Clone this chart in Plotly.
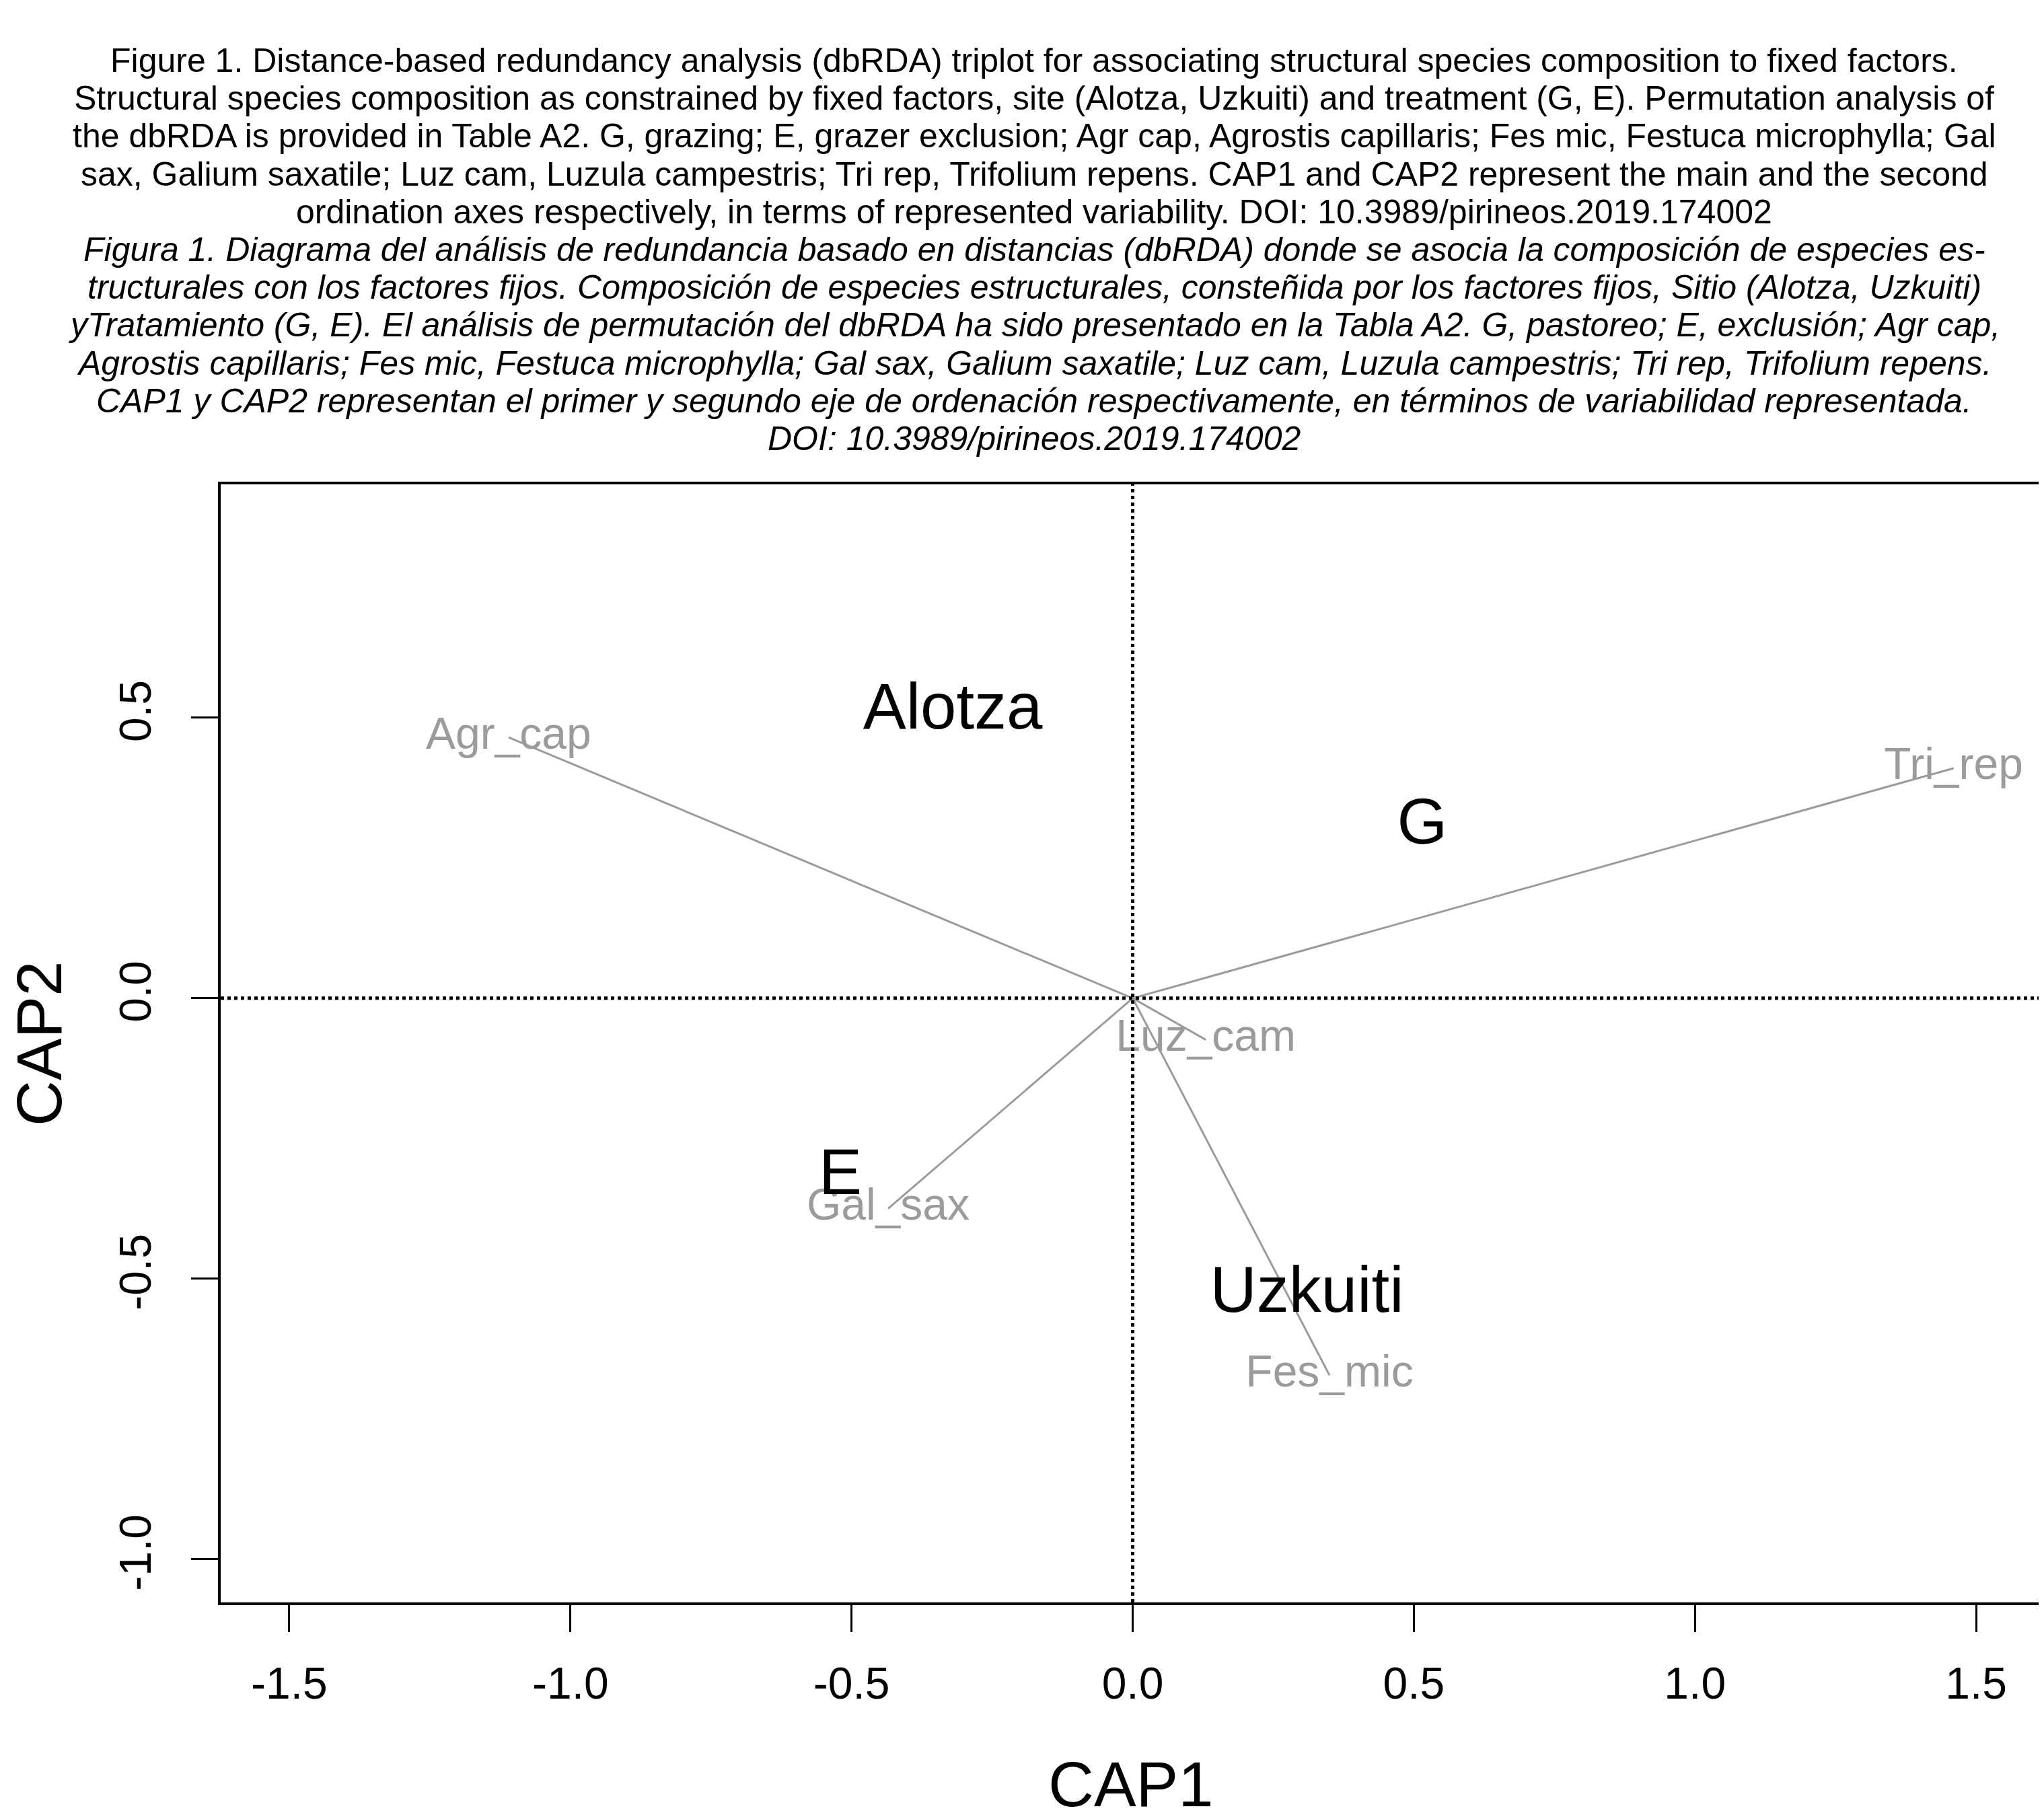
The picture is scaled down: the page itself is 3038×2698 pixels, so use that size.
import plotly.graph_objects as go

# species scores (CAP1, CAP2), drawn as segments from the origin
species = ["Agr_cap", "Fes_mic", "Gal_sax", "Luz_cam", "Tri_rep"]
sp_cap1 = [-1.11, 0.35, -0.435, 0.13, 1.46]
sp_cap2 = [0.465, -0.672, -0.375, -0.074, 0.41]

# fixed factor centroids
factors = ["Alotza", "Uzkuiti", "G", "E"]
f_cap1 = [-0.32, 0.31, 0.515, -0.52]
f_cap2 = [0.51, -0.53, 0.305, -0.32]

xticks = [-1.5, -1.0, -0.5, 0.0, 0.5, 1.0, 1.5]
xtick_labels = ["-1.5", "-1.0", "-0.5", "0.0", "0.5", "1.0", "1.5"]
yticks = [-1.0, -0.5, 0.0, 0.5]
ytick_labels = ["-1.0", "-0.5", "0.0", "0.5"]

caption_en = [
    "Figure 1. Distance-based redundancy analysis (dbRDA) triplot for associating structural species composition to fixed factors.",
    "Structural species composition as constrained by fixed factors, site (Alotza, Uzkuiti) and treatment (G, E). Permutation analysis of",
    "the dbRDA is provided in Table A2. G, grazing; E, grazer exclusion; Agr cap, Agrostis capillaris; Fes mic, Festuca microphylla; Gal",
    "sax, Galium saxatile; Luz cam, Luzula campestris; Tri rep, Trifolium repens. CAP1 and CAP2 represent the main and the second",
    "ordination axes respectively, in terms of represented variability. DOI: 10.3989/pirineos.2019.174002",
]
caption_es = [
    "Figura 1. Diagrama del análisis de redundancia basado en distancias (dbRDA) donde se asocia la composición de especies es-",
    "tructurales con los factores fijos. Composición de especies estructurales, consteñida por los factores fijos, Sitio (Alotza, Uzkuiti)",
    "yTratamiento (G, E). El análisis de permutación del dbRDA ha sido presentado en la Tabla A2. G, pastoreo; E, exclusión; Agr cap,",
    "Agrostis capillaris; Fes mic, Festuca microphylla; Gal sax, Galium saxatile; Luz cam, Luzula campestris; Tri rep, Trifolium repens.",
    "CAP1 y CAP2 representan el primer y segundo eje de ordenación respectivamente, en términos de variabilidad representada.",
    "DOI: 10.3989/pirineos.2019.174002",
]

GREY = "#9b9b9b"
FONT = "Liberation Sans, Arial, sans-serif"
W, H = 3038, 2698
M_L, M_R, M_T, M_B = 320, 12, 712, 324
plot_w = W - M_L - M_R
plot_h = H - M_T - M_B

fig = go.Figure()

# segments
for name, x, y in zip(species, sp_cap1, sp_cap2):
    fig.add_trace(go.Scatter(x=[0, x], y=[0, y], mode="lines",
                             line=dict(color=GREY, width=3),
                             showlegend=False, hoverinfo="skip"))

fig.add_trace(go.Scatter(x=sp_cap1, y=sp_cap2, mode="text", text=species,
                         textposition="middle center",
                         textfont=dict(family=FONT, size=66, color=GREY),
                         showlegend=False))

fig.add_trace(go.Scatter(x=f_cap1, y=f_cap2, mode="text", text=factors,
                         textposition="middle center",
                         textfont=dict(family=FONT, size=96, color="black"),
                         showlegend=False))

# dotted cross through origin
fig.add_shape(type="line", xref="x", yref="paper", x0=0, x1=0, y0=0, y1=1,
              line=dict(color="black", width=5, dash="dot"))
fig.add_shape(type="line", xref="paper", yref="y", x0=0, x1=1, y0=0, y1=0,
              line=dict(color="black", width=5, dash="dot"))

# caption, one annotation per line so the line spacing can be kept tight
cap_lines = caption_en + ["<i>" + s + "</i>" for s in caption_es]
for i, line in enumerate(cap_lines):
    py = 82 + i * 56.2  # px from top of page
    fig.add_annotation(text=line, xref="paper", yref="paper",
                       x=(1529 - M_L) / plot_w, y=1 + (M_T - py) / plot_h,
                       xanchor="center", yanchor="middle", showarrow=False,
                       font=dict(family=FONT, size=50, color="black"))

# axis titles (placed by hand, plotly clamps title standoff to the margins)
fig.add_annotation(text="CAP1", xref="paper", yref="paper", x=0.5,
                   y=(H - 2644 - M_B) / plot_h, xanchor="center", yanchor="middle",
                   showarrow=False, font=dict(family=FONT, size=94, color="black"))
fig.add_annotation(text="CAP2", xref="paper", yref="paper", x=(50 - M_L) / plot_w,
                   y=0.5, xanchor="center", yanchor="middle", textangle=-90,
                   showarrow=False, font=dict(family=FONT, size=94, color="black"))

axis_common = dict(showline=True, linewidth=4, linecolor="black", mirror=True,
                   showgrid=False, zeroline=False, ticks="outside", ticklen=40,
                   tickwidth=3, tickcolor="black", automargin=False,
                   tickfont=dict(family=FONT, size=66, color="black"))

fig.update_xaxes(range=[-1.622, 1.616], tickvals=xticks, ticktext=xtick_labels,
                 ticklabelstandoff=20, **axis_common)
fig.update_yaxes(range=[-1.077, 0.916], tickvals=yticks, ticktext=ytick_labels,
                 tickangle=-90, ticklabelstandoff=34, **axis_common)

fig.update_layout(width=W, height=H, plot_bgcolor="white", paper_bgcolor="white",
                  margin=dict(l=M_L, r=M_R, t=M_T, b=M_B, autoexpand=False), showlegend=False)

fig.write_html("out.html")
